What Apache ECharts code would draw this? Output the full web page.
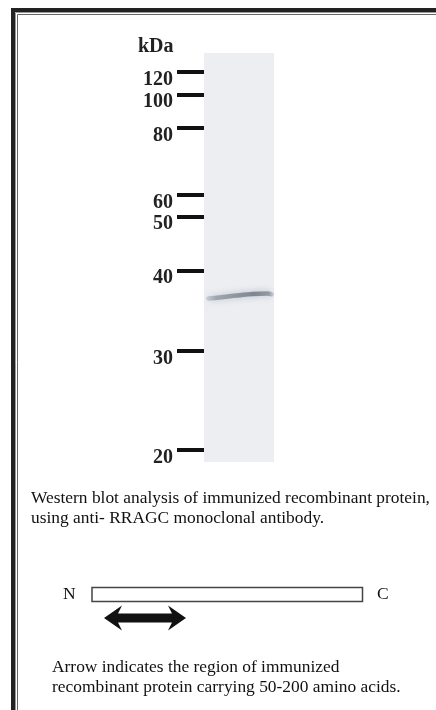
<!DOCTYPE html>
<html>
<head>
<meta charset="utf-8">
<script src="https://cdn.jsdelivr.net/npm/echarts@6/dist/echarts.min.js"></script>
<style>html,body{margin:0;padding:0;background:#fff}#c{width:436px;height:710px}</style>
</head>
<body>
<div id="c"></div>
<script>
// Marker ladder (kDa) and relative migration (0 = lane top, 1 = lane bottom)
var markerKDa = ['120', '100', '80', '60', '50', '40', '30', '20'];
var markerRf = [0.047, 0.101, 0.183, 0.347, 0.400, 0.532, 0.729, 0.971];
// Detected band: position across lane (0..1) and relative migration
var bandX = [0.06, 0.25, 0.47, 0.70, 0.90, 0.97];
var bandRf = [0.600, 0.597, 0.593, 0.589, 0.588, 0.590];
var captionLines = ['Western blot analysis of immunized recombinant protein,', 'using anti- RRAGC monoclonal antibody.'];
var noteLines = ['Arrow indicates the region of immunized', 'recombinant protein carrying 50-200 amino acids.'];

var chart = echarts.init(document.getElementById('c'), null, {renderer: 'canvas'});
var serif = '"Liberation Serif", "DejaVu Serif", serif';

function lbl(v) {
  for (var i = 0; i < markerRf.length; i++) if (Math.abs(markerRf[i] - v) < 1e-6) return markerKDa[i];
  return '';
}

var bandData = bandX.map(function (x, i) { return [x, bandRf[i]]; });

var graphics = [
  // frame
  {type: 'rect', shape: {x: 11, y: 8, width: 436, height: 4}, style: {fill: '#222'}, silent: true},
  {type: 'rect', shape: {x: 11, y: 8, width: 4, height: 710}, style: {fill: '#222'}, silent: true},
  {type: 'line', shape: {x1: 15.5, y1: 12.5, x2: 436, y2: 12.5}, style: {stroke: '#999', lineWidth: 1}, silent: true},
  {type: 'line', shape: {x1: 15.5, y1: 12.5, x2: 15.5, y2: 710}, style: {stroke: '#999', lineWidth: 1}, silent: true},
  {type: 'line', shape: {x1: 17.5, y1: 14.5, x2: 436, y2: 14.5}, style: {stroke: '#666', lineWidth: 1}, silent: true},
  {type: 'line', shape: {x1: 17.5, y1: 14.5, x2: 17.5, y2: 710}, style: {stroke: '#666', lineWidth: 1}, silent: true},
  // kDa
  {type: 'text', x: 138, y: 47, style: {text: 'kDa', font: 'bold 20px ' + serif, fill: '#222', textVerticalAlign: 'middle'}, silent: true},
  // caption
  {type: 'text', x: 31, y: 498, style: {text: captionLines[0], font: '17.4px ' + serif, fill: '#111', textVerticalAlign: 'middle'}, silent: true},
  {type: 'text', x: 31, y: 518, style: {text: captionLines[1], font: '17.4px ' + serif, fill: '#111', textVerticalAlign: 'middle'}, silent: true},
  // protein diagram
  {type: 'text', x: 63, y: 594, style: {text: 'N', font: '17.5px ' + serif, fill: '#111', textVerticalAlign: 'middle'}, silent: true},
  {type: 'rect', shape: {x: 92, y: 587.5, width: 270.5, height: 14}, style: {fill: '#fff', stroke: '#444', lineWidth: 1.5}, silent: true},
  {type: 'text', x: 377, y: 594, style: {text: 'C', font: '17.5px ' + serif, fill: '#111', textVerticalAlign: 'middle'}, silent: true},
  {type: 'polygon', shape: {points: [[104, 618], [122, 605.5], [118, 613.5], [172, 613.5], [168, 605.5], [186, 618], [168, 630.5], [172, 622.5], [118, 622.5], [122, 630.5]]}, style: {fill: '#111'}, silent: true},
  // note
  {type: 'text', x: 52, y: 667, style: {text: noteLines[0], font: '17.4px ' + serif, fill: '#111', textVerticalAlign: 'middle'}, silent: true},
  {type: 'text', x: 52, y: 687, style: {text: noteLines[1], font: '17.4px ' + serif, fill: '#111', textVerticalAlign: 'middle'}, silent: true}
];

chart.setOption({
  animation: false,
  backgroundColor: '#fff',
  grid: {left: 204, top: 53, width: 70, height: 409, show: true, backgroundColor: '#eceef2', borderWidth: 0},
  xAxis: {type: 'value', min: 0, max: 1, show: false},
  yAxis: {
    type: 'value', min: 0, max: 1, inverse: true, position: 'left', offset: 2,
    axisLine: {show: false},
    splitLine: {show: false},
    axisTick: {show: true, customValues: markerRf, length: 27, lineStyle: {width: 4, color: '#111'}},
    axisLabel: {
      show: true, customValues: markerRf, formatter: lbl, margin: 29,
      fontFamily: serif, fontWeight: 'bold', fontSize: 20, color: '#222',
      verticalAlign: 'top', lineHeight: 15
    }
  },
  series: [{
    type: 'line', data: bandData, smooth: true, symbol: 'none', silent: true,
    lineStyle: {
      width: 4.5,
      color: {type: 'linear', x: 0, y: 0, x2: 1, y2: 0, colorStops: [
        {offset: 0, color: 'rgba(100,110,125,0.2)'},
        {offset: 0.15, color: 'rgba(90,100,115,0.45)'},
        {offset: 0.7, color: 'rgba(75,85,100,0.62)'},
        {offset: 0.92, color: 'rgba(80,90,105,0.5)'},
        {offset: 1, color: 'rgba(100,110,125,0.15)'}
      ]},
      shadowBlur: 7, shadowColor: 'rgba(80,90,105,0.6)', cap: 'round'
    }
  }],
  graphic: graphics
});
</script>
</body>
</html>
